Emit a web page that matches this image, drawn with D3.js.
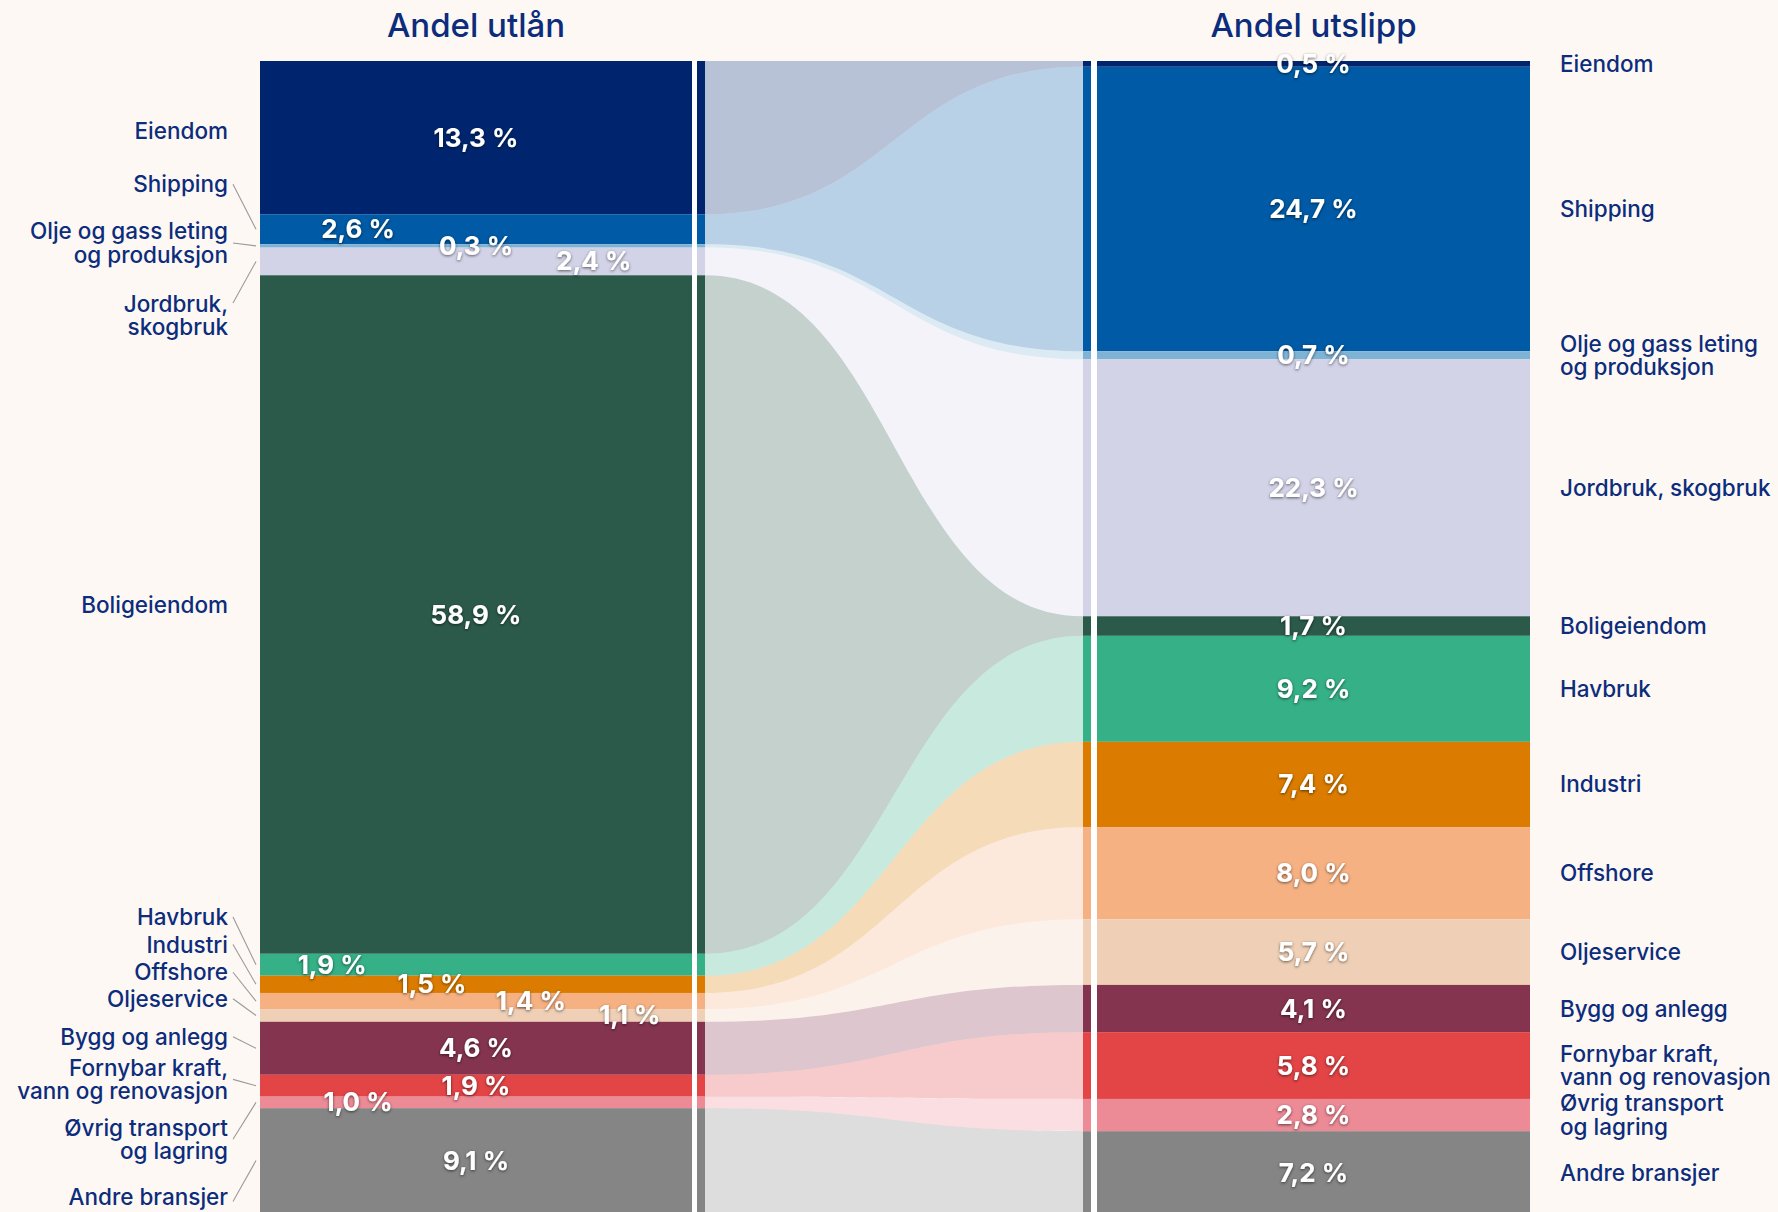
<!DOCTYPE html>
<html>
<head>
<meta charset="utf-8">
<script src="https://cdn.jsdelivr.net/npm/d3@7"></script>
<style>
  html, body { margin: 0; padding: 0; background: #fdf8f3; }
  svg { display: block; }
  text { font-family: Inter, "Noto Sans", sans-serif; }
</style>
</head>
<body>
<svg id="chart" width="1778" height="1212"></svg>
<script>
// sectors, top to bottom
var sectors = ["Eiendom", "Shipping", "Olje og gass leting og produksjon", "Jordbruk, skogbruk",
  "Boligeiendom", "Havbruk", "Industri", "Offshore", "Oljeservice", "Bygg og anlegg",
  "Fornybar kraft, vann og renovasjon", "Øvrig transport og lagring", "Andre bransjer"];

// share of lending (%) and share of emissions (%)
var lendingShare  = [13.3, 2.6, 0.3, 2.4, 58.9, 1.9, 1.5, 1.4, 1.1, 4.6, 1.9, 1.0, 9.1];
var emissionShare = [0.5, 24.7, 0.7, 22.3, 1.7, 9.2, 7.4, 8.0, 5.7, 4.1, 5.8, 2.8, 7.2];

var sectorColors = ["#00256e", "#005aa5", "#7fb3d5", "#d3d3e8", "#2b5a4a", "#35b087", "#db7c00",
  "#f6b183", "#efd0b6", "#84344e", "#e34446", "#ec8a96", "#858585"];

// label texts (line breaks as in the original)
var leftLabels = [["Eiendom"], ["Shipping"], ["Olje og gass leting", "og produksjon"], ["Jordbruk,", "skogbruk"],
  ["Boligeiendom"], ["Havbruk"], ["Industri"], ["Offshore"], ["Oljeservice"], ["Bygg og anlegg"],
  ["Fornybar kraft,", "vann og renovasjon"], ["Øvrig transport", "og lagring"], ["Andre bransjer"]];
var rightLabels = [["Eiendom"], ["Shipping"], ["Olje og gass leting", "og produksjon"], ["Jordbruk, skogbruk"],
  ["Boligeiendom"], ["Havbruk"], ["Industri"], ["Offshore"], ["Oljeservice"], ["Bygg og anlegg"],
  ["Fornybar kraft,", "vann og renovasjon"], ["Øvrig transport", "og lagring"], ["Andre bransjer"]];

var titles = ["Andel utlån", "Andel utslipp"];

// left label layout, in % units of the y scale (labels are spread out, with leader lines)
var leftLabelAt   = [6.1, 10.7, 15.8, 22.1, 47.2, 74.3, 76.7, 79.1, 81.4, 84.7, 88.4, 93.6, 98.6];
var leftLeaderAt  = [null, 10.7, 15.8, 21.0, null, 74.3, 76.7, 79.1, 81.4, 84.7, 88.4, 93.6, 99.0];
// horizontal shift of the left value labels (fraction of bar width)
var leftValueShift = [0, -0.273, 0, 0.273, 0, -0.333, -0.102, 0.127, 0.356, 0, 0, -0.273, 0];

var W = 1778, H = 1212;
var navy = "#0c2c7c";
var leftBar = { x0: 260, x1: 692 }, leftStrip = { x0: 697, x1: 705 };
var rightStrip = { x0: 1083, x1: 1091 }, rightBar = { x0: 1097, x1: 1530 };

var svg, y;

document.addEventListener('DOMContentLoaded', function() {
  svg = d3.select('#chart');

  y = d3.scaleLinear()
    .domain([0, 100])
    .range([61, 1213]);

  var defs = svg.append("defs");
  defs.append("filter")
      .attr("id", "shadow")
      .attr("x", "-20%").attr("y", "-40%")
      .attr("width", "140%").attr("height", "180%")
    .append("feDropShadow")
      .attr("dx", 0).attr("dy", 1)
      .attr("stdDeviation", 1.6)
      .attr("flood-color", "#000")
      .attr("flood-opacity", 0.6);

  svg.append("rect")
    .attr("width", W).attr("height", H)
    .attr("fill", "#fdf8f3");

  drawFlows();
  drawBars();
  drawLabels();
});

function stackOf(values) {
  var ends = d3.cumsum(values);
  return values.map(function(v, i) { return { start: ends[i] - v, end: ends[i], value: v }; });
}

function drawFlows() {
  var left = stackOf(lendingShare);
  var right = stackOf(emissionShare);

  // white underlay for the flow area
  svg.append("rect")
    .attr("x", leftBar.x1)
    .attr("y", y(0))
    .attr("width", rightBar.x0 - leftBar.x1)
    .attr("height", y(100) - y(0))
    .attr("fill", "#ffffff");

  var link = d3.area()
    .curve(d3.curveBumpX)
    .x(function(d) { return d.x; })
    .y0(function(d) { return d.y0; })
    .y1(function(d) { return d.y1; });

  svg.append("g")
    .selectAll("path")
    .data(sectors)
    .enter()
    .append("path")
      .attr("d", function(d, i) {
        return link([
          { x: leftStrip.x1, y0: y(left[i].start), y1: y(left[i].end) },
          { x: rightStrip.x0, y0: y(right[i].start), y1: y(right[i].end) }
        ]);
      })
      .attr("fill", function(d, i) { return sectorColors[i]; })
      .attr("fill-opacity", 0.28);
}

function drawColumn(stack, bar, strip) {
  var g = svg.append("g");
  g.selectAll("rect.bar")
    .data(stack)
    .enter()
    .append("rect")
      .attr("class", "bar")
      .attr("x", bar.x0)
      .attr("width", bar.x1 - bar.x0)
      .attr("y", function(d) { return y(d.start); })
      .attr("height", function(d) { return y(d.end) - y(d.start); })
      .attr("fill", function(d, i) { return sectorColors[i]; });

  g.selectAll("rect.strip")
    .data(stack)
    .enter()
    .append("rect")
      .attr("class", "strip")
      .attr("x", strip.x0)
      .attr("width", strip.x1 - strip.x0)
      .attr("y", function(d) { return y(d.start); })
      .attr("height", function(d) { return y(d.end) - y(d.start); })
      .attr("fill", function(d, i) { return sectorColors[i]; });
}

function drawBars() {
  drawColumn(stackOf(lendingShare), leftBar, leftStrip);
  drawColumn(stackOf(emissionShare), rightBar, rightStrip);
}

function fmt(v) {
  return v.toFixed(1).replace(".", ",") + " %";
}

function multiLine(sel, lines, lineH) {
  lines.forEach(function(t, k) {
    sel.append("tspan")
      .attr("x", sel.attr("x"))
      .attr("y", +sel.attr("y") + (k - (lines.length - 1) / 2) * lineH)
      .text(t);
  });
}

function drawLabels() {
  var left = stackOf(lendingShare);
  var right = stackOf(emissionShare);
  var lineH = 23.5;

  // titles
  svg.selectAll("text.title")
    .data(titles)
    .enter()
    .append("text")
      .attr("class", "title")
      .attr("x", function(d, i) { return i == 0 ? (leftBar.x0 + leftBar.x1) / 2 : (rightBar.x0 + rightBar.x1) / 2; })
      .attr("y", 37)
      .attr("text-anchor", "middle")
      .style("font-size", "33px")
      .style("font-weight", "500")
      .attr("fill", navy)
      .text(function(d) { return d; });

  // left category labels + leader lines
  var gl = svg.append("g");
  leftLabels.forEach(function(lines, i) {
    var t = gl.append("text")
      .attr("x", 228)
      .attr("y", y(leftLabelAt[i]) + 8)
      .attr("text-anchor", "end")
      .style("font-size", "22.5px")
      .style("font-weight", "500")
      .attr("fill", navy);
    multiLine(t, lines, lineH);

    if (leftLeaderAt[i] != null) {
      gl.append("line")
        .attr("x1", 233).attr("y1", y(leftLeaderAt[i]))
        .attr("x2", 256).attr("y2", y((left[i].start + left[i].end) / 2))
        .attr("stroke", "#9a9a9a")
        .attr("stroke-width", 1.1);
    }
  });

  // right category labels
  var gr = svg.append("g");
  rightLabels.forEach(function(lines, i) {
    var t = gr.append("text")
      .attr("x", 1560)
      .attr("y", y((right[i].start + right[i].end) / 2) + 8)
      .style("font-size", "22.5px")
      .style("font-weight", "500")
      .attr("fill", navy);
    multiLine(t, lines, lineH);
  });

  // value labels
  var lw = leftBar.x1 - leftBar.x0;
  svg.append("g")
    .selectAll("text")
    .data(left)
    .enter()
    .append("text")
      .attr("x", function(d, i) { return (leftBar.x0 + leftBar.x1) / 2 + leftValueShift[i] * lw; })
      .attr("y", function(d) { return y((d.start + d.end) / 2) + 9; })
      .attr("text-anchor", "middle")
      .style("font-size", "26px")
      .style("font-weight", "700")
      .attr("fill", "#ffffff")
      .attr("filter", "url(#shadow)")
      .text(function(d) { return fmt(d.value); });

  svg.append("g")
    .selectAll("text")
    .data(right)
    .enter()
    .append("text")
      .attr("x", (rightBar.x0 + rightBar.x1) / 2)
      .attr("y", function(d) { return y((d.start + d.end) / 2) + 9; })
      .attr("text-anchor", "middle")
      .style("font-size", "26px")
      .style("font-weight", "700")
      .attr("fill", "#ffffff")
      .attr("filter", "url(#shadow)")
      .text(function(d) { return fmt(d.value); });
}
</script>
</body>
</html>
